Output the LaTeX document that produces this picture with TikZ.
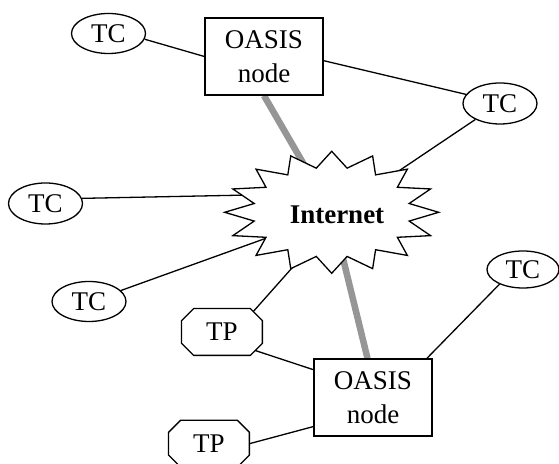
\documentclass[tikz,border=0pt]{standalone}
\usepackage{fontspec}
\setmainfont{Liberation Serif}
\usetikzlibrary{calc,shapes.geometric}
\definecolor{trunkgray}{RGB}{150,150,150}
\pgfdeclarelayer{background}
\pgfsetlayers{background,main}
% octagonal outline drawn around a rectangular node
\newcommand\octagonof[1]{%
  \draw[outline,fill=white]
    ($(#1.north west)+(12,0)$) -- ($(#1.north east)+(-12,0)$) --
    ($(#1.north east)+(0,12)$) -- ($(#1.south east)+(0,-12)$) --
    ($(#1.south east)+(-12,0)$) -- ($(#1.south west)+(12,0)$) --
    ($(#1.south west)+(0,-12)$) -- ($(#1.north west)+(0,12)$) -- cycle;}
\begin{document}
\begin{tikzpicture}[x=0.5pt,y=-0.5pt,
  font=\fontsize{13.5}{17}\selectfont,
  outline/.style={draw=black,line width=0.65pt},
  link/.style={draw=black,line width=0.65pt},
  trunk/.style={draw=trunkgray,line width=3.25pt},
  tcnode/.style={ellipse,outline,fill=white,inner sep=0pt,
                 minimum width=37pt,minimum height=20pt},
  oasis/.style={rectangle,outline,fill=white,inner sep=0pt,
                minimum width=59pt,minimum height=38.5pt,align=center},
  tpnode/.style={rectangle,inner sep=0pt,minimum width=40pt,minimum height=23pt}]
\useasboundingbox (0,0) rectangle (559,464);

% terminals, OASIS nodes and the Internet cloud
\node[tcnode] (tc1) at (108.5,33.5) {TC};
\node[oasis] (box1) at (264,56.5) {OASIS\\node};
\node[tcnode,minimum height=20.5pt] (tc2) at (500,103.5) {TC};
\node[tcnode,minimum height=20.5pt] (tc3) at (45.5,203.5) {TC};
\node[tcnode] (tc4) at (89,301.5) {TC};
\node[tcnode,minimum width=36pt,minimum height=18.5pt] (tc5) at (523,269.5) {TC};
\node[tpnode] (tp1) at (222,332) {TP};
\node[oasis] (box2) at (373,397.5) {OASIS\\node};
\node[tpnode] (tp2) at (209,443.7) {TP};
\coordinate (hub) at (331.7,212.3);
\node[font=\fontsize{13.5}{17}\selectfont\bfseries] (net) at (337,215) {Internet};

% ends of links that are hidden under the cloud or a TP outline
\coordinate (e2) at (370,190.3);
\coordinate (e3) at (290,194.2);
\coordinate (e4) at (300,226);
\coordinate (e5) at (310,247.7);
\coordinate (s5) at (240,326.5);
\coordinate (s6) at (240,345.5);

\begin{pgfonlayer}{background}
  % backbone links
  \draw[trunk] (box1.south) -- (hub);
  \draw[trunk] (box2.98) -- (hub);
  % access links
  \draw[link] (tc1.-9) -- (box1.west);
  \draw[link] (box1.-4) -- (tc2.165);
  \draw[link] (tc2.213) -- (e2);
  \draw[link] (tc3.8) -- (e3);
  \draw[link] (tc4.19) -- (e4);
  \draw[link] (s5) -- (e5);
  \draw[link] (s6) -- (box2.155);
  \draw[link] (tp2.east) -- (box2.206);
  \draw[link] (tc5.212) -- (box2.36);
  % Internet starburst
  \draw[outline,fill=white,shift={(hub)}] (0:107 and 61)
    \foreach \k in {0,...,15}{ -- ({22.5*\k+11.25}:79 and 45) -- ({22.5*\k+22.5}:107 and 61)} -- cycle;
  % TP outlines
  \octagonof{tp1}
  \octagonof{tp2}
\end{pgfonlayer}
\end{tikzpicture}
\end{document}
